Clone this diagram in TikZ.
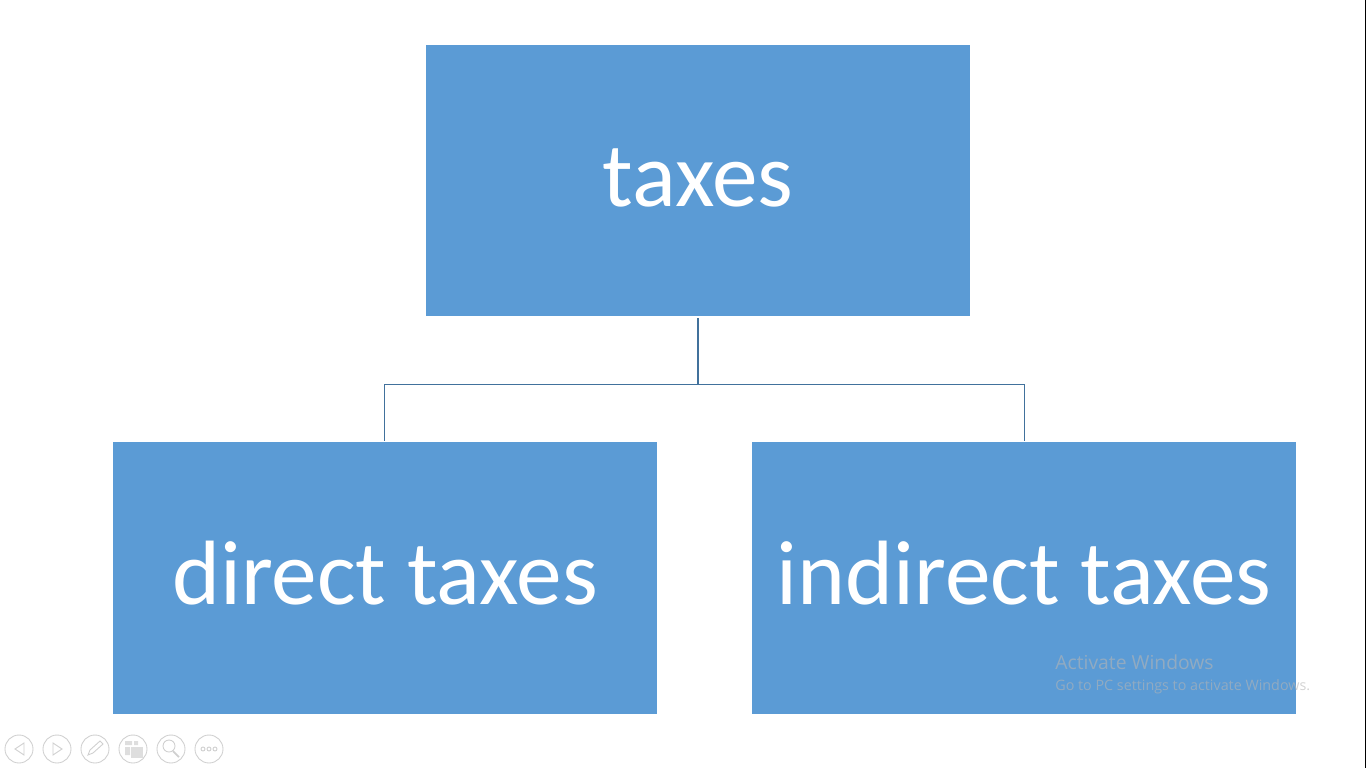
\documentclass[tikz,border=0pt]{standalone}
\usepackage{fontspec}
\setmainfont{Carlito}
\newfontfamily\noticefont{Open Sans}
\definecolor{boxblue}{HTML}{5B9BD5}
\definecolor{linkblue}{HTML}{41719C}
\definecolor{iconline}{HTML}{D0D0D0}
\tikzset{
  taxbox/.style={fill=boxblue,text=white,minimum width=10.88cm,minimum height=5.43cm,inner sep=0pt,text height=33.4pt,text depth=3.3pt,font=\fontsize{52}{62}\selectfont},
  linkline/.style={draw=linkblue,line width=0.45pt},
  iconring/.style={draw=iconline,line width=0.5pt,circle,minimum size=0.56cm,inner sep=0pt},
  iconmark/.style={draw=iconline,line width=0.5pt},
  notice/.style={text=gray!58,opacity=0.6,anchor=west,inner sep=0pt},
}
\begin{document}
\begin{tikzpicture}[x=0.02cm,y=-0.02cm]
    \useasboundingbox (0,0) rectangle (1366,768);
    % right edge of the screen
    \draw[black,line width=0.57pt] (1365.5,0) -- (1365.5,768);

    % boxes
    \node[taxbox] (taxes) at (698,180.5) {taxes};
    \node[taxbox] (direct) at (385,578) {direct taxes};
    \node[taxbox] (indirect) at (1024,578) {indirect taxes};

    % connectors
    \coordinate (junction) at (698,384);
    \draw[linkline,line width=1.1pt,shorten <=1pt] (taxes) -- (junction);
    \draw[linkline,shorten >=0.6pt] (junction) -| ([xshift=-0.012cm]direct.north);
    \draw[linkline,shorten >=0.6pt] (junction) -| (indirect);

    % windows notice
    \node[notice,font=\noticefont\fontsize{11}{13}\selectfont] (activate) at (1055,662) {Activate Windows};
    \node[notice,font=\noticefont\fontsize{8.15}{10}\selectfont] (settings) at (1055,686.5) {Go to PC settings to activate Windows.};

    % slide show buttons
    \foreach \i/\name in {19/prev,57/next,95/pen,133/slides,171/zoom,209/more}
        \node[iconring] (\name) at (\i,749) {};
    \draw[iconmark] (24,743) -- (15,749) -- (24,755) -- cycle;
    \draw[iconmark] (53,743) -- (62,749) -- (53,755) -- cycle;
    \draw[iconmark] (88,755) -- (90,750) -- (100,741) -- (103,744) -- (93,753) -- cycle;
    \fill[iconline!70] (125,741) rectangle (132,745) (134,741) rectangle (138,745) (125,747) rectangle (130,755);
    \draw[iconmark,draw=iconline!70,fill=iconline!70] (131,747) rectangle (142,757);
    \draw[iconmark] (169,746) circle (6);
    \draw[iconmark,line width=1pt] (173,751) -- (179,757);
    \foreach \i in {203,209,215}
        \draw[iconmark] (\i,749) circle (2);
\end{tikzpicture}
\end{document}
